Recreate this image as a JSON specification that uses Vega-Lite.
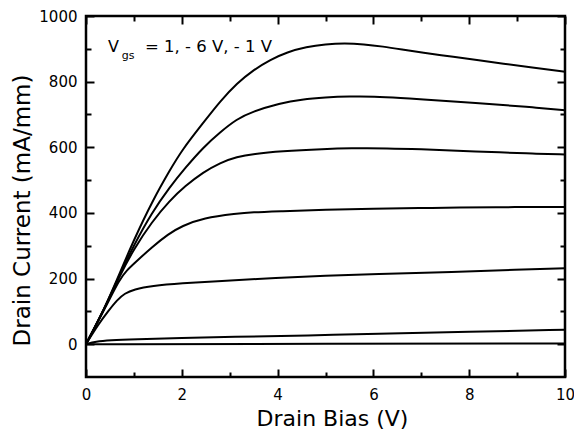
{
  "$schema": "https://vega.github.io/schema/vega-lite/v6.json",
  "width": 479,
  "height": 361,
  "autosize": {"type": "none"},
  "padding": {"left": 86, "top": 16, "right": 9, "bottom": 58},
  "background": "white",
  "config": {
    "view": {"stroke": "black", "strokeWidth": 2.5},
    "font": "DejaVu Sans",
    "axis": {
      "grid": false,
      "domain": false,
      "labelFont": "DejaVu Sans",
      "labelFontSize": 15,
      "labelColor": "black",
      "titleFont": "DejaVu Sans",
      "titleFontWeight": "normal",
      "titleColor": "black",
      "tickColor": "black",
      "tickWidth": 2
    }
  },
  "datasets": {
    "curves": [
      {"curve": 1, "x": 0, "y": 0}, {"curve": 1, "x": 0.4, "y": 112}, {"curve": 1, "x": 0.7, "y": 215}, {"curve": 1, "x": 1.0, "y": 318}, {"curve": 1, "x": 1.4, "y": 440}, {"curve": 1, "x": 1.75, "y": 530}, {"curve": 1, "x": 2.0, "y": 591}, {"curve": 1, "x": 2.45, "y": 675}, {"curve": 1, "x": 2.8, "y": 740}, {"curve": 1, "x": 3.15, "y": 795}, {"curve": 1, "x": 3.5, "y": 836}, {"curve": 1, "x": 3.85, "y": 867}, {"curve": 1, "x": 4.2, "y": 890}, {"curve": 1, "x": 4.6, "y": 906}, {"curve": 1, "x": 5.0, "y": 914}, {"curve": 1, "x": 5.4, "y": 917}, {"curve": 1, "x": 5.8, "y": 914}, {"curve": 1, "x": 6.2, "y": 907}, {"curve": 1, "x": 6.6, "y": 898}, {"curve": 1, "x": 7.0, "y": 889}, {"curve": 1, "x": 7.7, "y": 875}, {"curve": 1, "x": 8.2, "y": 865}, {"curve": 1, "x": 8.7, "y": 855}, {"curve": 1, "x": 9.3, "y": 843}, {"curve": 1, "x": 10, "y": 830},
      {"curve": 2, "x": 0, "y": 0}, {"curve": 2, "x": 0.4, "y": 112}, {"curve": 2, "x": 0.7, "y": 211}, {"curve": 2, "x": 1.0, "y": 302}, {"curve": 2, "x": 1.37, "y": 400}, {"curve": 2, "x": 1.75, "y": 479}, {"curve": 2, "x": 2.07, "y": 537}, {"curve": 2, "x": 2.45, "y": 600}, {"curve": 2, "x": 2.8, "y": 646}, {"curve": 2, "x": 3.15, "y": 686}, {"curve": 2, "x": 3.46, "y": 708}, {"curve": 2, "x": 4.05, "y": 734}, {"curve": 2, "x": 4.5, "y": 746}, {"curve": 2, "x": 5.0, "y": 752}, {"curve": 2, "x": 5.5, "y": 755}, {"curve": 2, "x": 6.0, "y": 755}, {"curve": 2, "x": 6.6, "y": 750}, {"curve": 2, "x": 7.0, "y": 746}, {"curve": 2, "x": 7.7, "y": 739}, {"curve": 2, "x": 8.7, "y": 729}, {"curve": 2, "x": 9.3, "y": 722}, {"curve": 2, "x": 10, "y": 713},
      {"curve": 3, "x": 0, "y": 0}, {"curve": 3, "x": 0.4, "y": 112}, {"curve": 3, "x": 0.7, "y": 208}, {"curve": 3, "x": 1.0, "y": 290}, {"curve": 3, "x": 1.37, "y": 372}, {"curve": 3, "x": 1.75, "y": 438}, {"curve": 3, "x": 2.07, "y": 482}, {"curve": 3, "x": 2.45, "y": 524}, {"curve": 3, "x": 2.8, "y": 553}, {"curve": 3, "x": 3.15, "y": 571}, {"curve": 3, "x": 3.5, "y": 580}, {"curve": 3, "x": 4.05, "y": 588}, {"curve": 3, "x": 5.0, "y": 595}, {"curve": 3, "x": 5.5, "y": 597}, {"curve": 3, "x": 6.3, "y": 597}, {"curve": 3, "x": 7.0, "y": 594}, {"curve": 3, "x": 7.7, "y": 590}, {"curve": 3, "x": 8.7, "y": 584}, {"curve": 3, "x": 9.3, "y": 581}, {"curve": 3, "x": 10, "y": 578},
      {"curve": 4, "x": 0, "y": 0}, {"curve": 4, "x": 0.4, "y": 110}, {"curve": 4, "x": 0.7, "y": 198}, {"curve": 4, "x": 0.85, "y": 225}, {"curve": 4, "x": 1.02, "y": 248}, {"curve": 4, "x": 1.37, "y": 295}, {"curve": 4, "x": 1.72, "y": 336}, {"curve": 4, "x": 2.0, "y": 360}, {"curve": 4, "x": 2.45, "y": 385}, {"curve": 4, "x": 3.15, "y": 398}, {"curve": 4, "x": 3.46, "y": 402}, {"curve": 4, "x": 4.05, "y": 405}, {"curve": 4, "x": 5.0, "y": 410}, {"curve": 4, "x": 6.0, "y": 413}, {"curve": 4, "x": 7.0, "y": 415}, {"curve": 4, "x": 7.7, "y": 416}, {"curve": 4, "x": 9.0, "y": 418}, {"curve": 4, "x": 10, "y": 418},
      {"curve": 5, "x": 0, "y": 0}, {"curve": 5, "x": 0.26, "y": 61}, {"curve": 5, "x": 0.47, "y": 102}, {"curve": 5, "x": 0.65, "y": 135}, {"curve": 5, "x": 0.81, "y": 155}, {"curve": 5, "x": 1.0, "y": 167}, {"curve": 5, "x": 1.37, "y": 178}, {"curve": 5, "x": 2.0, "y": 186}, {"curve": 5, "x": 2.76, "y": 192}, {"curve": 5, "x": 4.0, "y": 202}, {"curve": 5, "x": 5.0, "y": 209}, {"curve": 5, "x": 6.0, "y": 213}, {"curve": 5, "x": 7.7, "y": 220}, {"curve": 5, "x": 9.0, "y": 227}, {"curve": 5, "x": 10, "y": 231},
      {"curve": 6, "x": 0, "y": 0}, {"curve": 6, "x": 0.2, "y": 8}, {"curve": 6, "x": 0.5, "y": 12}, {"curve": 6, "x": 1, "y": 15}, {"curve": 6, "x": 2, "y": 19}, {"curve": 6, "x": 3, "y": 22}, {"curve": 6, "x": 4.7, "y": 27}, {"curve": 6, "x": 6, "y": 31}, {"curve": 6, "x": 8, "y": 38}, {"curve": 6, "x": 10, "y": 44},
      {"curve": 7, "x": 0, "y": 0}, {"curve": 7, "x": 5, "y": 1}, {"curve": 7, "x": 10, "y": 2}
    ]
  },
  "layer": [
    {
      "data": {"name": "curves"},
      "mark": {"type": "line", "color": "black", "strokeWidth": 2, "interpolate": "basis"},
      "encoding": {
        "x": {"field": "x", "type": "quantitative", "scale": {"domain": [0, 10], "nice": false, "zero": false},
          "axis": {"orient": "bottom", "values": [0, 2, 4, 6, 8, 10], "format": "d", "ticks": false, "labelPadding": 10, "labelFlush": false, "labelOverlap": false,
            "title": "Drain Bias (V)", "titleFontSize": 22, "titleX": 246, "titleY": 48, "titleBaseline": "alphabetic"}},
        "y": {"field": "y", "type": "quantitative", "scale": {"domain": [-100, 1000], "nice": false, "zero": false},
          "axis": {"orient": "left", "values": [0, 200, 400, 600, 800, 1000], "format": "d", "ticks": false, "labelPadding": 9, "labelFlush": false, "labelOverlap": false,
            "title": "Drain Current (mA/mm)", "titleFontSize": 23, "titleX": -57, "titleY": 194, "titleBaseline": "alphabetic", "titleAngle": -90}},
        "detail": {"field": "curve", "type": "nominal"}
      }
    },
    {
      "data": {"name": "curves"},
      "mark": {"type": "line", "opacity": 0},
      "encoding": {
        "x": {"field": "x", "type": "quantitative", "scale": {"domain": [0, 10], "nice": false, "zero": false}, "axis": {"orient": "bottom", "values": [0, 2, 4, 6, 8, 10], "tickSize": -8, "labels": false, "title": null}},
        "y": {"field": "y", "type": "quantitative", "scale": {"domain": [-100, 1000], "nice": false, "zero": false}, "axis": {"orient": "left", "values": [0, 200, 400, 600, 800, 1000], "tickSize": -8, "labels": false, "title": null}},
        "detail": {"field": "curve", "type": "nominal"}
      }
    },
    {
      "data": {"name": "curves"},
      "mark": {"type": "line", "opacity": 0},
      "encoding": {
        "x": {"field": "x", "type": "quantitative", "scale": {"domain": [0, 10], "nice": false, "zero": false}, "axis": {"orient": "bottom", "values": [1, 3, 5, 7, 9], "tickSize": -5, "labels": false, "title": null}},
        "y": {"field": "y", "type": "quantitative", "scale": {"domain": [-100, 1000], "nice": false, "zero": false}, "axis": {"orient": "left", "values": [100, 300, 500, 700, 900], "tickSize": -5, "labels": false, "title": null}},
        "detail": {"field": "curve", "type": "nominal"}
      }
    },
    {
      "data": {"name": "curves"},
      "mark": {"type": "line", "opacity": 0},
      "encoding": {
        "x": {"field": "x", "type": "quantitative", "scale": {"domain": [0, 10], "nice": false, "zero": false}, "axis": {"orient": "top", "values": [0, 2, 4, 6, 8, 10], "tickSize": -8, "labels": false, "title": null}},
        "y": {"field": "y", "type": "quantitative", "scale": {"domain": [-100, 1000], "nice": false, "zero": false}, "axis": {"orient": "right", "values": [0, 200, 400, 600, 800, 1000], "tickSize": -8, "labels": false, "title": null}},
        "detail": {"field": "curve", "type": "nominal"}
      }
    },
    {
      "data": {"name": "curves"},
      "mark": {"type": "line", "opacity": 0},
      "encoding": {
        "x": {"field": "x", "type": "quantitative", "scale": {"domain": [0, 10], "nice": false, "zero": false}, "axis": {"orient": "top", "values": [1, 3, 5, 7, 9], "tickSize": -5, "labels": false, "title": null}},
        "y": {"field": "y", "type": "quantitative", "scale": {"domain": [-100, 1000], "nice": false, "zero": false}, "axis": {"orient": "right", "values": [100, 300, 500, 700, 900], "tickSize": -5, "labels": false, "title": null}},
        "detail": {"field": "curve", "type": "nominal"}
      }
    },
    {
      "data": {"values": [{}]},
      "mark": {"type": "text", "text": "V", "font": "DejaVu Sans", "fontSize": 16, "align": "left", "baseline": "alphabetic", "color": "black"},
      "encoding": {
        "x": {"datum": 0.46, "type": "quantitative", "scale": {"domain": [0, 10], "nice": false, "zero": false}, "axis": null},
        "y": {"datum": 890, "type": "quantitative", "scale": {"domain": [-100, 1000], "nice": false, "zero": false}, "axis": null}
      }
    },
    {
      "data": {"values": [{}]},
      "mark": {"type": "text", "text": "gs", "font": "DejaVu Sans", "fontSize": 11, "align": "left", "baseline": "alphabetic", "color": "black"},
      "encoding": {
        "x": {"datum": 0.745, "type": "quantitative", "scale": {"domain": [0, 10], "nice": false, "zero": false}, "axis": null},
        "y": {"datum": 868, "type": "quantitative", "scale": {"domain": [-100, 1000], "nice": false, "zero": false}, "axis": null}
      }
    },
    {
      "data": {"values": [{}]},
      "mark": {"type": "text", "text": "= 1, - 6 V, - 1 V", "font": "DejaVu Sans", "fontSize": 16.5, "align": "left", "baseline": "alphabetic", "color": "black"},
      "encoding": {
        "x": {"datum": 1.23, "type": "quantitative", "scale": {"domain": [0, 10], "nice": false, "zero": false}, "axis": null},
        "y": {"datum": 890, "type": "quantitative", "scale": {"domain": [-100, 1000], "nice": false, "zero": false}, "axis": null}
      }
    }
  ],
  "resolve": {"scale": {"x": "independent", "y": "independent"}, "axis": {"x": "independent", "y": "independent"}}
}
